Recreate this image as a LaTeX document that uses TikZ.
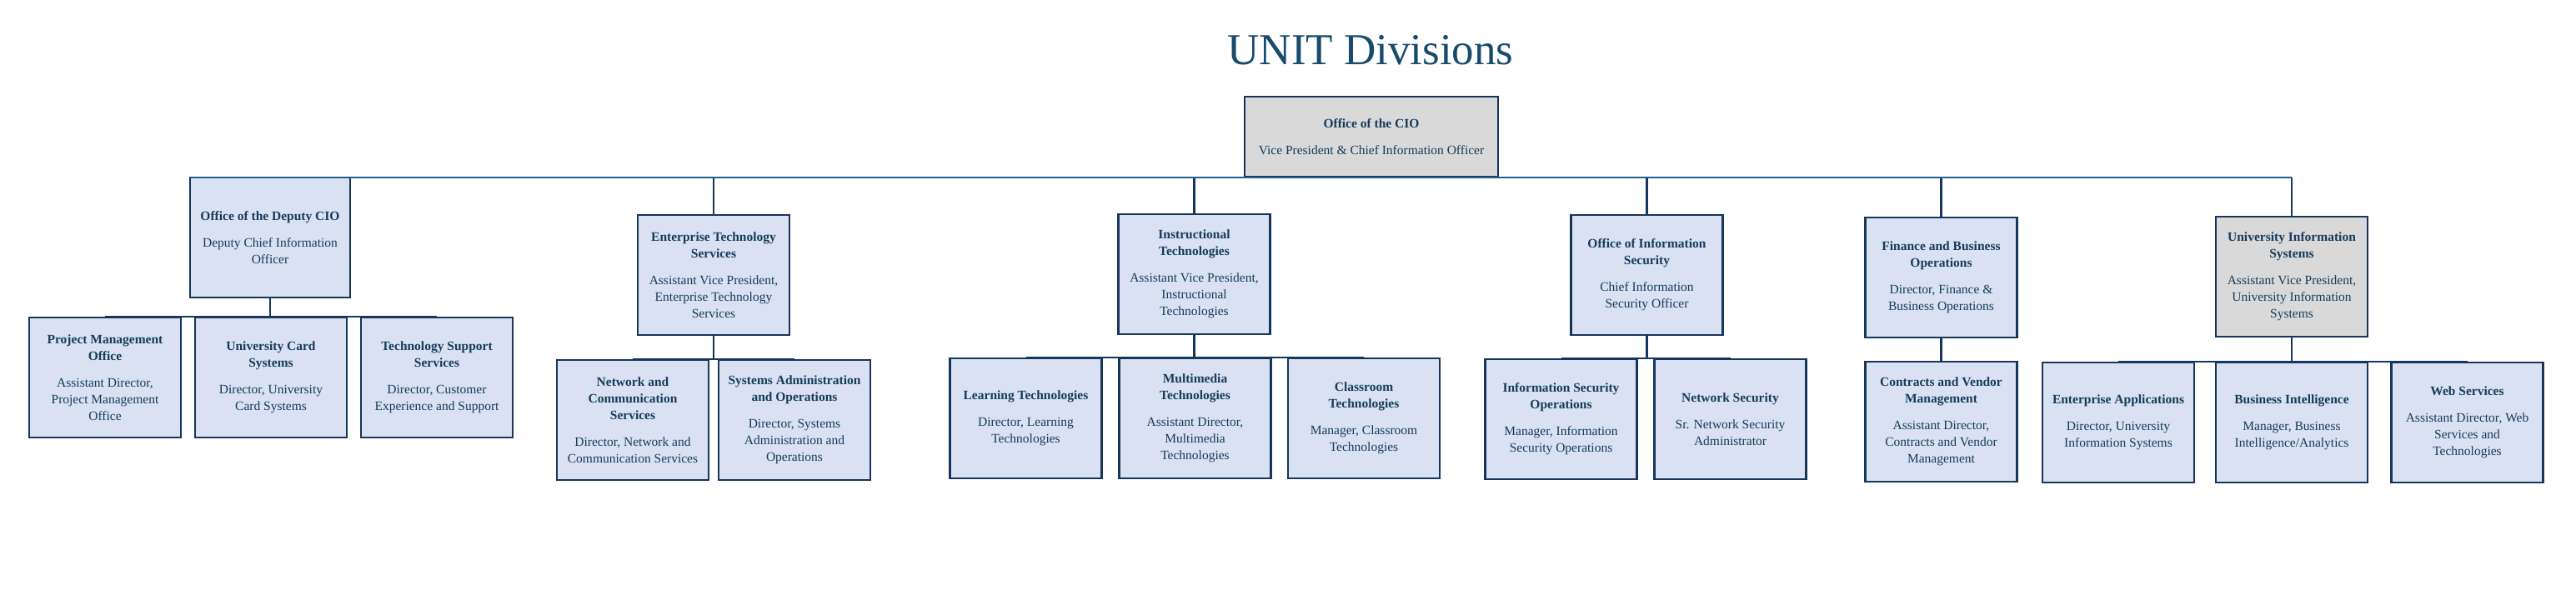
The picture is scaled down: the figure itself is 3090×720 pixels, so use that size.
\documentclass[tikz,border=0pt]{standalone}
\usepackage{fontspec}
\setmainfont{Liberation Serif}
\definecolor{boxline}{HTML}{16365C}
\definecolor{busline}{HTML}{1F5F8B}
\definecolor{boxfill}{HTML}{D9E1F2}
\definecolor{grayfill}{HTML}{D9D9D9}
\definecolor{txt}{HTML}{173C5A}
\definecolor{ttl}{HTML}{174B6C}
\tikzset{
  orgbox/.style={draw=boxline, fill=boxfill, line width=2.5pt, minimum width=182pt,
    minimum height=144pt, inner sep=0pt, align=center, text=txt,
    font=\fontsize{15.5}{20}\selectfont},
  graybox/.style={orgbox, fill=grayfill},
  conn/.style={draw=boxline, line width=2.5pt},
  bus/.style={draw=busline, line width=2.5pt},
}
\begin{document}
\begin{tikzpicture}[x=1pt, y=-1pt]
\useasboundingbox[fill=white] (0,0) rectangle (3090,720);

\node[anchor=base, text=ttl, font=\fontsize{53}{60}\selectfont] (title) at (1644,77) {UNIT Divisions};

\node[graybox, minimum width=304pt, minimum height=96pt] (cio) at (1645,164)
  {\textbf{Office of the CIO}\\[12pt]Vice President \& Chief Information Officer};

% level 1
\node[orgbox, minimum width=192pt] (dep) at (324,285)
  {\textbf{Office of the Deputy CIO}\\[12pt]Deputy Chief Information\\Officer};
\node[orgbox] (ets) at (856,330)
  {\textbf{Enterprise Technology}\\\textbf{Services}\\[12pt]Assistant Vice President,\\Enterprise Technology\\Services};
\node[orgbox] (it) at (1432.5,329)
  {\textbf{Instructional}\\\textbf{Technologies}\\[12pt]Assistant Vice President,\\Instructional\\Technologies};
\node[orgbox] (ois) at (1975.5,330)
  {\textbf{Office of Information}\\\textbf{Security}\\[12pt]Chief Information\\Security Officer};
\node[orgbox] (fbo) at (2328.5,333)
  {\textbf{Finance and Business}\\\textbf{Operations}\\[12pt]Director, Finance \&\\Business Operations};
\node[graybox] (uis) at (2749,332)
  {\textbf{University Information}\\\textbf{Systems}\\[12pt]Assistant Vice President,\\University Information\\Systems};

% level 2
\node[orgbox] (pmo) at (126,453)
  {\textbf{Project Management}\\\textbf{Office}\\[12pt]Assistant Director,\\Project Management\\Office};
\node[orgbox] (ucs) at (325,453)
  {\textbf{University Card}\\\textbf{Systems}\\[12pt]Director, University\\Card Systems};
\node[orgbox] (tss) at (524,453)
  {\textbf{Technology Support}\\\textbf{Services}\\[12pt]Director, Customer\\Experience and Support};
\node[orgbox] (ncs) at (759,504)
  {\textbf{Network and}\\\textbf{Communication}\\\textbf{Services}\\[12pt]Director, Network and\\Communication Services};
\node[orgbox] (sao) at (953,504)
  {\textbf{Systems Administration}\\\textbf{and Operations}\\[12pt]Director, Systems\\Administration and\\Operations};
\node[orgbox] (lt) at (1230.5,502)
  {\textbf{Learning Technologies}\\[12pt]Director, Learning\\Technologies};
\node[orgbox] (mt) at (1433.5,502)
  {\textbf{Multimedia}\\\textbf{Technologies}\\[12pt]Assistant Director,\\Multimedia\\Technologies};
\node[orgbox] (ct) at (1636,502)
  {\textbf{Classroom}\\\textbf{Technologies}\\[12pt]Manager, Classroom\\Technologies};
\node[orgbox] (iso) at (1872.5,503)
  {\textbf{Information Security}\\\textbf{Operations}\\[12pt]Manager, Information\\Security Operations};
\node[orgbox] (ns) at (2075.5,503)
  {\textbf{Network Security}\\[12pt]Sr. Network Security\\Administrator};
\node[orgbox] (cvm) at (2328.5,506)
  {\textbf{Contracts and Vendor}\\\textbf{Management}\\[12pt]Assistant Director,\\Contracts and Vendor\\Management};
\node[orgbox] (ea) at (2541,507)
  {\textbf{Enterprise Applications}\\[12pt]Director, University\\Information Systems};
\node[orgbox] (bi) at (2749,507)
  {\textbf{Business Intelligence}\\[12pt]Manager, Business\\Intelligence/Analytics};
\node[orgbox] (ws) at (2959.5,507)
  {\textbf{Web Services}\\[12pt]Assistant Director, Web\\Services and\\Technologies};

% top bus
\coordinate (busL) at (228,213);
\coordinate (busR) at (2749,213);
\draw[conn] (ets.north) -- (ets.north |- busL);
\draw[conn] (it.north) -- (it.north |- busL);
\draw[conn] (ois.north) -- (ois.north |- busL);
\draw[conn] (fbo.north) -- (fbo.north |- busL);
\draw[conn] (uis.north) -- (busR);
\draw[bus] (busL) -- (busR);

% child connectors
\draw[conn] (dep.south) -- (dep.south |- ucs.north);
\draw[conn] (pmo.north) -- (tss.north);
\draw[conn] (ets.south) -- (ets.south |- ncs.north);
\draw[conn] (ncs.north) -- (sao.north);
\draw[conn] (it.south) -- (it.south |- mt.north);
\draw[conn] (lt.north) -- (ct.north);
\draw[conn] (ois.south) -- (ois.south |- iso.north);
\draw[conn] (iso.north) -- (ns.north);
\draw[conn] (fbo.south) -- (cvm.north);
\draw[conn] (uis.south) -- (bi.north);
\draw[conn] (ea.north) -- (ws.north);
\end{tikzpicture}
\end{document}
